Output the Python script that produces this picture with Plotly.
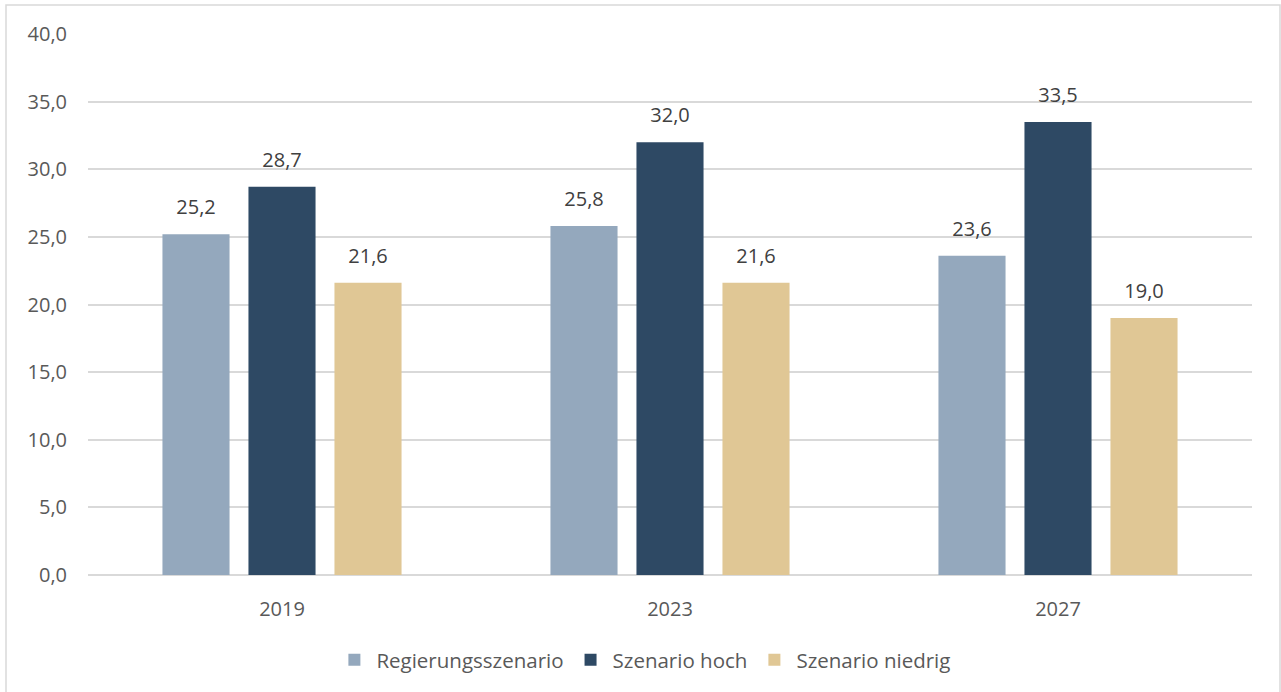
import plotly.graph_objects as go

years = ["2019", "2023", "2027"]
regierung = [25.2, 25.8, 23.6]
hoch = [28.7, 32.0, 33.5]
niedrig = [21.6, 21.6, 19.0]
series_names = ["Regierungsszenario", "Szenario hoch", "Szenario niedrig"]
colors = ["#94A8BD", "#2E4964", "#E0C795"]
y_ticks = [0, 5, 10, 15, 20, 25, 30, 35, 40]

fig = go.Figure()
for name, vals, col in zip(series_names, [regierung, hoch, niedrig], colors):
    fig.add_trace(go.Bar(
        x=years, y=vals, name=name, marker=dict(color=col, line=dict(width=0)),
        texttemplate="<span style='font-size:20px'>%{y:.1f}</span><br> ",
        textposition="outside", cliponaxis=False,
        textfont=dict(family="Open Sans", size=11, color="#404040"),
    ))

fig.update_layout(
    width=1281, height=692,
    margin=dict(l=88, r=29, t=34, b=117),
    paper_bgcolor="white", plot_bgcolor="white",
    separators=",.",
    barmode="group", bargap=0.335, bargroupgap=0.22,
    font=dict(family="Open Sans", size=16, color="#595959"),
    showlegend=True,
    legend=dict(orientation="h", x=0.478, xanchor="center", y=-0.157, yanchor="middle",
                font=dict(size=20.5, color="#595959"), traceorder="normal",
                itemwidth=34),
    xaxis=dict(showgrid=False, showline=False, ticks="", ticklabelstandoff=20,
               tickfont=dict(size=20, color="#595959")),
    yaxis=dict(range=[0, 40], tickvals=y_ticks, tickformat=".1f",
               showgrid=True, gridcolor="#D9D9D9", gridwidth=1.5,
               zeroline=True, zerolinecolor="#D9D9D9", zerolinewidth=1.5,
               showline=False, ticks="", ticklabelstandoff=20,
               tickfont=dict(size=20, color="#595959")),
    shapes=[dict(type="rect", xref="paper", yref="paper",
                 x0=(6 - 88) / 1164, x1=(1280 - 88) / 1164,
                 y0=(575 - 700) / 541, y1=(575 - 5) / 541,
                 line=dict(color="#D9D9D9", width=1.5), fillcolor="rgba(0,0,0,0)",
                 layer="below")],
)

fig.write_html("out.html", config={"displayModeBar": False},
               post_script="document.body.style.margin='0';")
